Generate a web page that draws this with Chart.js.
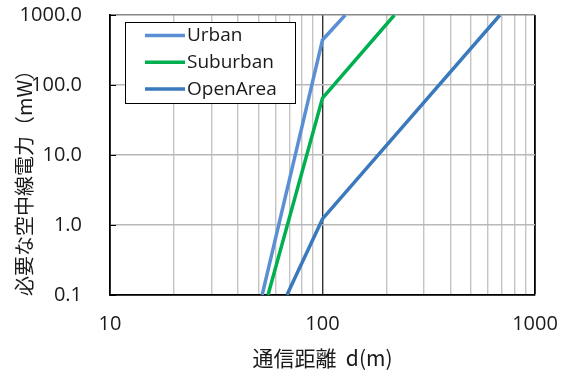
<!DOCTYPE html>
<html>
<head>
<meta charset="utf-8">
<script src="https://cdn.jsdelivr.net/npm/chart.js@4/dist/chart.umd.min.js"></script>
<style>
  html, body { margin: 0; padding: 0; background: #fff; }
  #wrap { width: 562px; height: 374px; }
</style>
</head>
<body>
<div id="wrap"><canvas id="chart" width="562" height="374"></canvas></div>
<script>
const seriesNames = ['Urban', 'Suburban', 'OpenArea'];
const seriesColors = ['#5A8FD3', '#00B050', '#3B79BD'];

// distance (m) / required power (mW)
const urbanDist = [52, 100, 128];
const urbanPower = [0.1, 440, 1000];
const suburbanDist = [55.4, 100, 218];
const suburbanPower = [0.1, 65, 1000];
const openDist = [68, 100, 684];
const openPower = [0.1, 1.22, 1000];

const xTicks = [10, 20, 30, 40, 50, 60, 70, 80, 90, 100, 200, 300, 400, 500, 600, 700, 800, 900, 1000];
const xLabels = [10, 100, 1000];
const yTicks = [0.1, 1, 10, 100, 1000];

const yTitle = '必要な空中線電力（mW）';
const xTitle = '通信距離  d(m)';

const FONT = '"Open Sans", "Noto Sans CJK JP", sans-serif';
const TEXT = '#1a1a1a';

function toPoints(xs, ys) {
  return xs.map((x, i) => ({ x: x, y: ys[i] }));
}

const datasets = [
  toPoints(urbanDist, urbanPower),
  toPoints(suburbanDist, suburbanPower),
  toPoints(openDist, openPower),
].map((pts, i) => ({
  label: seriesNames[i],
  data: pts,
  borderColor: seriesColors[i],
  backgroundColor: seriesColors[i],
  borderWidth: 3.5,
  pointRadius: 0,
  tension: 0,
  clip: 0,
}));

// legend box drawn inside the plot, like the original
const boxLegend = {
  id: 'boxLegend',
  afterDatasetsDraw(chart) {
    const ctx = chart.ctx;
    const x0 = 125, y0 = 22, w = 170, h = 81;
    ctx.save();
    ctx.fillStyle = '#fff';
    ctx.fillRect(x0, y0, w, h);
    ctx.strokeStyle = '#000';
    ctx.lineWidth = 1;
    ctx.strokeRect(x0 + 0.5, y0 + 0.5, w, h);
    ctx.font = '19px ' + FONT;
    ctx.textBaseline = 'middle';
    chart.data.datasets.forEach((ds, i) => {
      const y = 35.5 + i * 26.8;
      ctx.strokeStyle = ds.borderColor;
      ctx.lineWidth = 3.5;
      ctx.beginPath();
      ctx.moveTo(145, y);
      ctx.lineTo(185, y);
      ctx.stroke();
      ctx.fillStyle = TEXT;
      ctx.fillText(ds.label, 187, y);
    });
    ctx.restore();
  }
};

// inward tick marks on the y axis + the rotated y title
const extras = {
  id: 'extras',
  afterDraw(chart) {
    const ctx = chart.ctx;
    const y = chart.scales.y;
    const area = chart.chartArea;
    ctx.save();
    ctx.strokeStyle = '#000';
    ctx.lineWidth = 1;
    yTicks.forEach(v => {
      const py = Math.round(y.getPixelForValue(v)) + 0.5;
      ctx.beginPath();
      ctx.moveTo(area.left, py);
      ctx.lineTo(area.left + 6, py);
      ctx.stroke();
    });
    ctx.translate(24, 178);
    ctx.rotate(-Math.PI / 2);
    ctx.font = '20px "Noto Sans CJK JP", sans-serif';
    ctx.fillStyle = TEXT;
    ctx.textAlign = 'center';
    ctx.textBaseline = 'middle';
    ctx.fillText(yTitle, 0, 0);
    ctx.restore();
  }
};

new Chart(document.getElementById('chart'), {
  type: 'line',
  data: { datasets: datasets },
  options: {
    responsive: false,
    animation: false,
    layout: { padding: { top: 15, right: 27, left: 0, bottom: 0 } },
    plugins: {
      legend: { display: false },
      tooltip: { enabled: false },
    },
    scales: {
      x: {
        type: 'logarithmic',
        min: 10,
        max: 1000,
        afterBuildTicks(scale) {
          scale.ticks = xTicks.map(v => ({ value: v }));
        },
        afterFit(scale) {
          scale.height = 79;
          scale.paddingLeft = 0;
          scale.paddingRight = 0;
        },
        ticks: {
          autoSkip: false,
          maxRotation: 0,
          padding: 17,
          color: TEXT,
          font: { family: FONT, size: 20 },
          callback: (v) => xLabels.includes(v) ? String(v) : '',
        },
        grid: {
          drawTicks: false,
          color: (c) => {
            const v = c.tick && c.tick.value;
            if (v === 1000) return '#000';
            return v === 100 ? '#333' : '#c4c4c4';
          },
          lineWidth: (c) => c.tick && c.tick.value === 1000 ? 1.8 : 1.4,
        },
        border: { color: '#000', width: 1.8 },
        title: {
          display: true,
          text: xTitle,
          color: TEXT,
          font: { family: '"Noto Sans CJK JP", sans-serif', size: 21 },
          padding: { top: 0, bottom: 3 },
        },
      },
      y: {
        type: 'logarithmic',
        min: 0.1,
        max: 1000,
        afterBuildTicks(scale) {
          scale.ticks = yTicks.map(v => ({ value: v }));
        },
        afterFit(scale) {
          scale.width = 110;
          scale.paddingTop = 0;
          scale.paddingBottom = 0;
        },
        ticks: {
          padding: 28,
          color: TEXT,
          font: { family: FONT, size: 20 },
          callback: (v) => Number(v).toFixed(1),
        },
        grid: {
          drawTicks: false,
          color: (c) => c.tick && c.tick.value === 1000 ? '#888' : '#b8b8b8',
          lineWidth: 1.5,
        },
        border: { color: '#000', width: 1.8 },
      },
    },
  },
  plugins: [boxLegend, extras],
});
</script>
</body>
</html>
